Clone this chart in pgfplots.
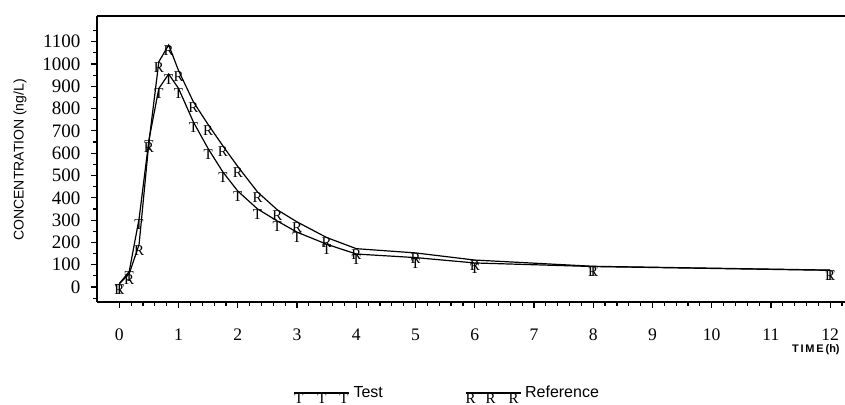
\documentclass[border=0pt]{standalone}
\usepackage{fontspec}
\setmainfont{Liberation Serif}
\setsansfont{Liberation Sans}
\usepackage{pgfplots}
\usepackage{pgfplotstable}
\pgfplotsset{compat=1.18}

\pgfplotstableread{
t c
0 15
0.167 70
0.333 305
0.5 660
0.667 890
0.833 955
1 890
1.25 740
1.5 620
1.75 515
2 430
2.333 350
2.667 296
3 246
3.5 192
4 148
5 132
6 108
8 92
12 75
}\testdata

\pgfplotstableread{
t c
0 15
0.167 60
0.333 190
0.5 650
0.667 1010
0.833 1085
1 970
1.25 830
1.5 728
1.75 632
2 540
2.333 426
2.667 346
3 292
3.5 222
4 172
5 153
6 121
8 93
12 76
}\refdata

\newcommand{\mkfont}{\fontsize{7.5}{7.5}\selectfont}

\begin{document}
\begin{tikzpicture}
\begin{axis}[
  at={(0,0)}, anchor=south west,
  scale only axis, width=374pt, height=143pt,
  xmin=-0.377, xmax=12.25, ymin=-67, ymax=1215,
  clip=false,
  axis x line*=bottom, axis y line*=left,
  axis line style={-, line width=0.6pt},
  every outer x axis line/.append style={-},
  every outer y axis line/.append style={-},
  xtick={0,1,...,12},
  minor xtick={0,0.2,...,12.2},
  ytick={0,100,...,1100},
  minor ytick={-50,50,...,1150},
  tick align=outside,
  major tick length=3pt, minor tick length=1.8pt,
  tick style={line width=0.6pt, black},
  /pgf/number format/assume math mode=true,
  /pgf/number format/set thousands separator={},
  yticklabel style={font=\fontsize{9.5}{10}\selectfont, xshift=-1.8pt},
  xticklabel style={font=\fontsize{8.8}{10}\selectfont, yshift=-7pt},
  ylabel={CONCENTRATION (ng/L)},
  ylabel style={at={(axis description cs:-0.103,0.497)}, anchor=center, font=\sffamily\fontsize{7}{8}\selectfont},
  xlabel={\textbf{T\,I\,M\,E\,(h)}},
  xlabel style={at={(axis description cs:0.961,-0.165)}, anchor=center, font=\sffamily\fontsize{5.5}{6}\selectfont},
  legend columns=2,
  legend style={draw=none, fill=none, at={(axis description cs:0.262,-0.322)}, anchor=west,
    inner sep=0pt, font=\sffamily\fontsize{8}{9}\selectfont,
    /tikz/every even column/.append style={column sep=39pt}},
  legend cell align=left,
]
\addplot[black, line width=0.6pt, mark=text, text mark={T}, text mark as node=true,
  text mark style={font=\mkfont, anchor=north, inner sep=0pt},
  legend image code/.code={
    \draw[black, line width=0.6pt] (0pt,0pt) -- (27.5pt,0pt);
    \node[anchor=north, inner sep=0pt, font=\mkfont] at (2.5pt,0pt) {T};
    \node[anchor=north, inner sep=0pt, font=\mkfont] at (14pt,0pt) {T};
    \node[anchor=north, inner sep=0pt, font=\mkfont] at (25pt,0pt) {T};
  }] table[x=t,y=c]{\testdata};
\addlegendentry{Test}
\addplot[black, line width=0.6pt, mark=text, text mark={R}, text mark as node=true,
  text mark style={font=\mkfont, anchor=north, inner sep=0pt},
  legend image code/.code={
    \draw[black, line width=0.6pt] (0pt,0pt) -- (27.5pt,0pt);
    \node[anchor=north, inner sep=0pt, font=\mkfont] at (2.5pt,0pt) {R};
    \node[anchor=north, inner sep=0pt, font=\mkfont] at (12.5pt,0pt) {R};
    \node[anchor=north, inner sep=0pt, font=\mkfont] at (24pt,0pt) {R};
  }] table[x=t,y=c]{\refdata};
\addlegendentry{Reference}
\draw[line width=0.6pt] (rel axis cs:0,1) -- (rel axis cs:1,1);
\end{axis}
\pgfresetboundingbox
\path (-48.5pt,-51.5pt) rectangle (374pt,151pt);
\end{tikzpicture}
\end{document}
